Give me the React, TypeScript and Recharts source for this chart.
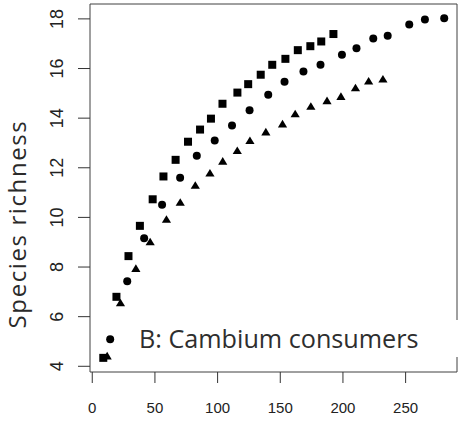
import React from 'react';
import { ScatterChart, Scatter, XAxis, YAxis, ReferenceArea } from 'recharts';

// rarefaction-like curves, three groups
const squareX = [8.8, 19.3, 28.9, 38.0, 48.2, 56.8, 66.5, 76.4, 86.0, 94.7, 103.9, 115.8, 124.4, 134.4, 143.6, 154.1, 164.0, 174.0, 182.7, 192.4];
const squareY = [4.34, 6.8, 8.44, 9.66, 10.73, 11.65, 12.32, 13.05, 13.54, 13.98, 14.58, 15.03, 15.37, 15.75, 16.15, 16.39, 16.74, 16.9, 17.09, 17.39];
const circleX = [14.3, 27.9, 41.4, 55.7, 70.1, 83.4, 97.7, 111.5, 125.5, 140.4, 153.4, 168.5, 182.1, 199.2, 210.8, 224.2, 235.7, 252.9, 265.4, 280.8];
const circleY = [5.09, 7.43, 9.16, 10.51, 11.6, 12.48, 13.1, 13.7, 14.32, 14.94, 15.47, 15.88, 16.15, 16.55, 16.82, 17.21, 17.32, 17.77, 17.98, 18.03];
const triX = [11.9, 22.5, 34.8, 46.2, 59.2, 70.2, 82.2, 93.9, 104.1, 115.7, 125.8, 138.5, 151.8, 161.9, 174.4, 187.3, 198.4, 210.0, 220.5, 231.9];
const triY = [4.42, 6.56, 7.95, 9.02, 9.93, 10.61, 11.3, 11.79, 12.27, 12.7, 13.1, 13.45, 13.77, 14.18, 14.48, 14.71, 14.88, 15.23, 15.5, 15.58];

const xTicks = [0, 50, 100, 150, 200, 250];
const yTicks = [4, 6, 8, 10, 12, 14, 16, 18];
const xDomain = [-1.8, 291];
const yDomain = [3.77, 18.6];

const yTitle = 'Species richness';
const panelLabel = 'B: Cambium consumers';

const toPoints = (xs: number[], ys: number[]) => xs.map((x, i) => ({ x, y: ys[i] }));

const squareData = toPoints(squareX, squareY);
const circleData = toPoints(circleX, circleY);
const triData = toPoints(triX, triY);

const Square = (props: any) => (
  <rect x={props.cx - 4} y={props.cy - 4} width={8} height={8} fill="#000" />
);

const Dot = (props: any) => <circle cx={props.cx} cy={props.cy} r={4} fill="#000" />;

const Triangle = (props: any) => {
  const { cx, cy } = props;
  return (
    <polygon
      points={`${cx},${cy - 4} ${cx - 4.6},${cy + 3.6} ${cx + 4.6},${cy + 3.6}`}
      fill="#000"
    />
  );
};

const XTick = (props: any) => (
  <text
    x={props.x}
    y={props.y + 30}
    textAnchor="middle"
    fontFamily="Liberation Sans, Arial, sans-serif"
    fontSize={15}
    fill="#222"
  >
    {props.payload.value}
  </text>
);

const YTick = (props: any) => {
  const bx = props.x - 14.7;
  return (
    <text
      x={bx}
      y={props.y}
      transform={`rotate(-90 ${bx} ${props.y})`}
      textAnchor="middle"
      fontFamily="Liberation Sans, Arial, sans-serif"
      fontSize={18}
      fill="#222"
    >
      {props.payload.value}
    </text>
  );
};

const App: React.FC = () => {
  return (
    <div style={{ position: 'absolute', left: 0, top: 0, width: 462, height: 422, background: '#fff' }}>
      <ScatterChart width={462} height={422} margin={{ top: 4, right: 5, bottom: 0, left: 0 }}>
        <XAxis
          type="number"
          dataKey="x"
          domain={xDomain}
          ticks={xTicks}
          allowDataOverflow
          height={50}
          axisLine={false}
          tickSize={11}
          tickMargin={0}
          tickLine={{ stroke: '#333' }}
          tick={<XTick />}
        />
        <YAxis
          type="number"
          dataKey="y"
          domain={yDomain}
          ticks={yTicks}
          allowDataOverflow
          width={90}
          axisLine={false}
          tickSize={12}
          tickMargin={0}
          tickLine={{ stroke: '#333' }}
          tick={<YTick />}
        />
        <ReferenceArea
          x1={xDomain[0]}
          x2={xDomain[1]}
          y1={yDomain[0]}
          y2={yDomain[1]}
          fill="none"
          stroke="#404040"
          ifOverflow="visible"
        />
        <Scatter data={squareData} shape={<Square />} isAnimationActive={false} />
        <Scatter data={circleData} shape={<Dot />} isAnimationActive={false} />
        <Scatter data={triData} shape={<Triangle />} isAnimationActive={false} />
      </ScatterChart>
      <svg
        width={462}
        height={422}
        style={{ position: 'absolute', left: 0, top: 0, pointerEvents: 'none' }}
      >
        <text
          x={26}
          y={224}
          transform="rotate(-90 26 224)"
          textAnchor="middle"
          fontFamily="Open Sans, sans-serif"
          fontSize={24}
          letterSpacing={1.6}
          fill="#2a2a2a"
        >
          {yTitle}
        </text>
        <rect x={125} y={320} width={336} height={37} fill="#fff" />
        <text x={139} y={348} fontFamily="Open Sans, sans-serif" fontSize={25.2} fill="#2e2e2e">
          {panelLabel}
        </text>
      </svg>
    </div>
  );
};

export default App;
